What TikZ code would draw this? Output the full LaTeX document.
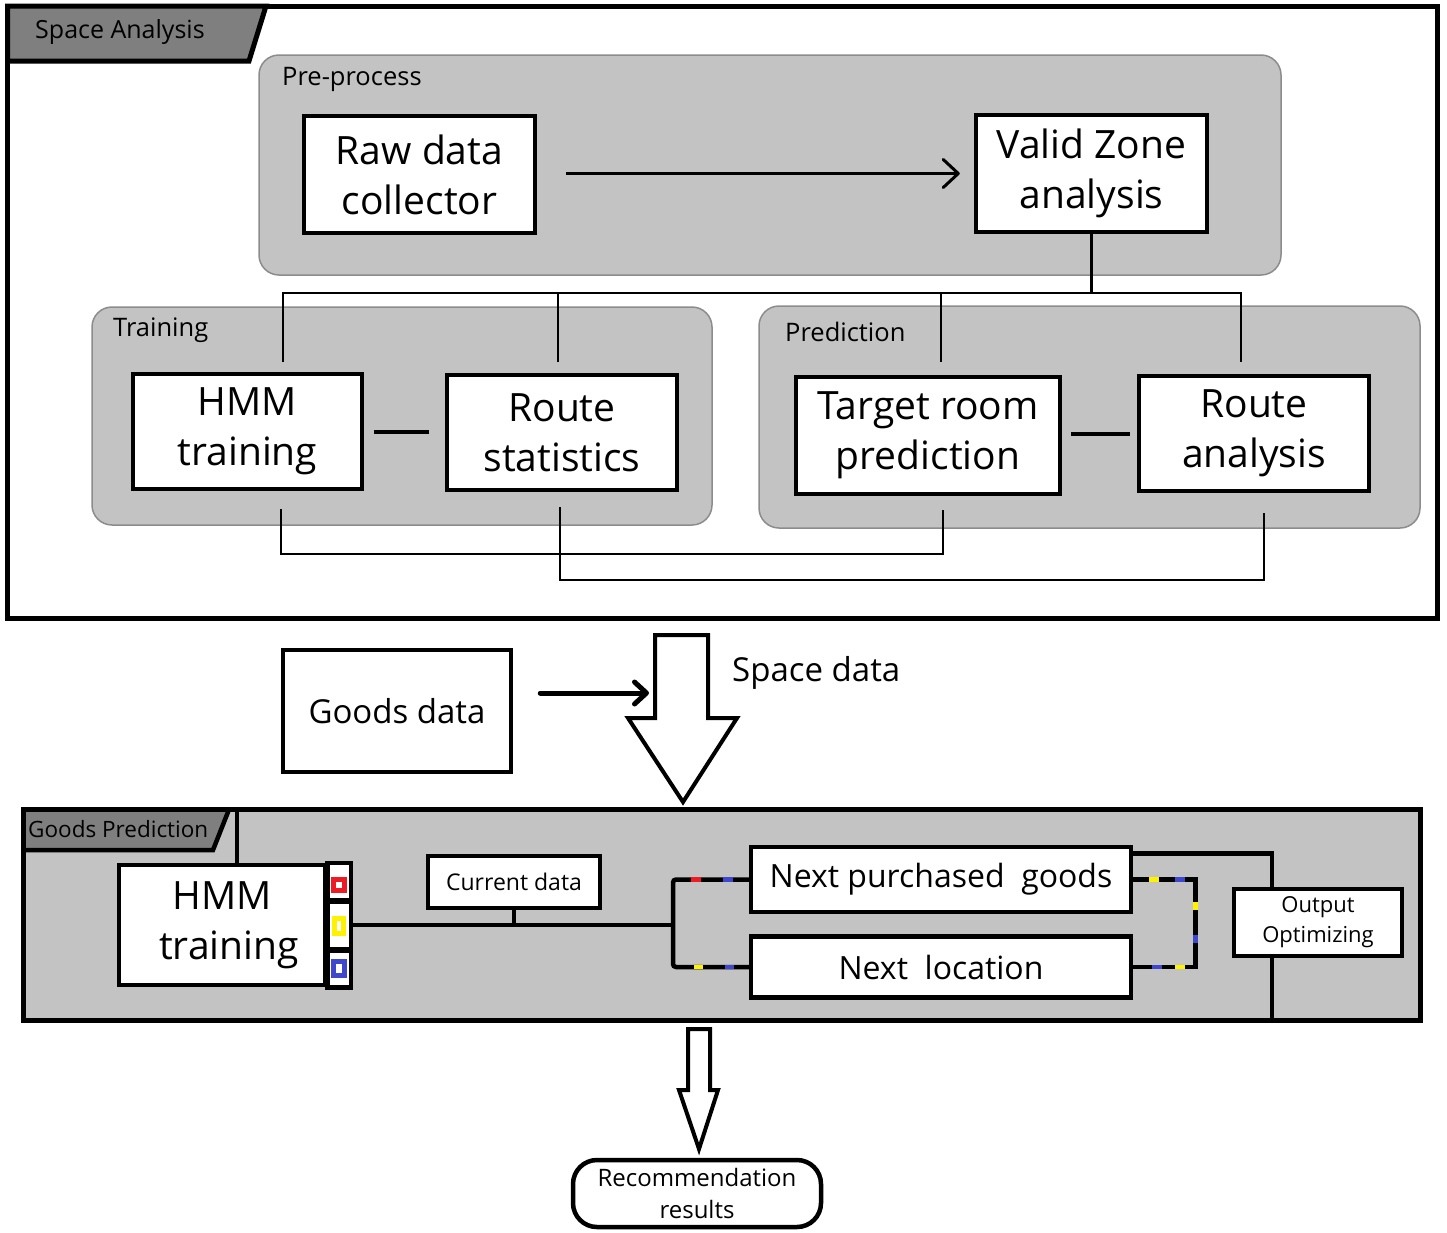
\documentclass[tikz,border=0pt]{standalone}
\usepackage{fontspec}
\setmainfont{Open Sans}
\usetikzlibrary{arrows.meta,calc}

\definecolor{grpfill}{HTML}{C3C3C3}
\definecolor{grpline}{HTML}{8C8C8C}
\definecolor{tabfill}{HTML}{7F7F7F}
\definecolor{pinred}{HTML}{ED1C24}
\definecolor{pinyel}{HTML}{FFF200}
\definecolor{pinblue}{HTML}{3F48CC}

\tikzset{
  bigbox/.style={draw, line width=4.5pt, fill=white, align=center, inner sep=0pt,
    font=\fontsize{39}{50}\selectfont},
  midbox/.style={draw, line width=4.5pt, fill=white, align=center, inner sep=0pt,
    font=\fontsize{32}{40}\selectfont},
  smallbox/.style={draw, line width=4pt, fill=white, align=center, inner sep=0pt,
    font=\fontsize{23}{30}\selectfont},
  grp/.style={draw=grpline, fill=grpfill, line width=1.5pt, rounded corners=20pt},
  glabel/.style={anchor=west, inner sep=0pt, font=\fontsize{25.5}{30}\selectfont},
  tablabel/.style={anchor=west, inner sep=0pt},
  link/.style={line width=2.8pt},
  heavy/.style={line width=4.5pt},
  chev/.style={-{Straight Barb[length=15pt,width=28pt,line width=3pt,round]}},
  chevbold/.style={line width=5pt, line cap=round,
    -{Straight Barb[length=12pt,width=22pt,line width=5pt,round]}},
  hollow/.style={draw, line width=4pt, fill=white, line join=miter},
  pin/.style={line width=5pt},
}

\begin{document}
\begin{tikzpicture}[x=1pt,y=-1pt]
\useasboundingbox (0,0) rectangle (1447,1232);

% ---------------- Space Analysis ----------------
\draw[line width=5pt] (7.5,6) rectangle (1437.5,618);
\draw[line width=5pt, fill=tabfill] (7.5,6) -- (266,6) -- (249,61) -- (7.5,61) -- cycle;
\node[tablabel, font=\fontsize{25}{30}\selectfont] (tabA) at (35,32) {Space Analysis};

% groups
\draw[grp] (259,55) rectangle (1281,275);
\node[glabel] (lpre) at (282,79) {Pre-process};
\draw[grp] (92,307) rectangle (712,525);
\node[glabel] (ltrain) at (113,330) {Training};
\draw[grp] (759,306) rectangle (1420,528);
\node[glabel] (lpred) at (785,332) {Prediction};

% boxes
\node[bigbox, minimum width=231pt, minimum height=117pt] (raw) at (419.5,174.5) {Raw data\\collector};
\node[bigbox, minimum width=231pt, minimum height=117pt] (valid) at (1091.5,173.5) {Valid Zone\\analysis};
\node[bigbox, minimum width=229pt, minimum height=115pt] (hmmT) at (247.5,431.5) {HMM\\training};
\node[bigbox, minimum width=230pt, minimum height=115pt] (rstat) at (562,432.5) {Route\\statistics};
\node[bigbox, minimum width=264pt, minimum height=117pt] (target) at (928,435.5) {Target room\\prediction};
\node[bigbox, minimum width=230pt, minimum height=115pt] (rana) at (1254,433.5) {Route\\analysis};

% raw -> valid
\draw[link, chev] ([xshift=29pt]raw.east |- valid.west) -- ([xshift=-14pt]valid.west);

% distribution bus
\coordinate (bus) at (0,293);
\coordinate (t1) at (283,362);
\coordinate (t2) at (558,362);
\coordinate (t3) at (941,362);
\coordinate (t4) at (1241,362);
\draw[link] (valid.south) -- (valid.south |- bus);
\draw[link] (t1) |- (t4 |- bus) -- (t4);
\draw[link] (t2) -- (t2 |- bus);
\draw[link] (t3) -- (t3 |- bus);

% side links
\coordinate (sideA) at (0,432);
\coordinate (sideB) at (0,434);
\draw[line width=3.5pt] ([xshift=10pt]hmmT.east |- sideA) -- ([xshift=-16pt]rstat.west |- sideA);
\draw[line width=3.5pt] ([xshift=9pt]target.east |- sideB) -- ([xshift=-7pt]rana.west |- sideB);

% lower cross links
\coordinate (b1) at (281,509);
\coordinate (b2) at (943,510);
\coordinate (b3) at (560,507);
\coordinate (b4) at (1264,513);
\draw[link] (b1) |- (b2 |- 0,554) -- (b2);
\draw[link] (b3) |- (b4 |- 0,580) -- (b4);

% ---------------- middle ----------------
\node[bigbox, font=\fontsize{33}{40}\selectfont, minimum width=228pt, minimum height=122pt] (goods) at (397,711) {Goods data};
\draw[hollow] (655,635) -- (708,635) -- (708,718) -- (737,718) -- (683,802)
  -- (628,718) -- (655,718) -- cycle;
\coordinate (bigin) at (649,693);
\draw[chevbold] ([xshift=27pt]goods.east |- bigin) -- (bigin);
\node[anchor=west, inner sep=0pt, font=\fontsize{33}{40}\selectfont] (spd) at (732,673) {Space data};

% ---------------- Goods Prediction ----------------
\draw[heavy, fill=grpfill] (23.5,809.5) rectangle (1420.5,1020.5);
\draw[heavy, fill=tabfill] (23.5,809.5) -- (229,809.5) -- (213,850) -- (23.5,850) -- cycle;
\node[tablabel, font=\fontsize{22.5}{28}\selectfont] (tabB) at (28,829) {Goods Prediction};

\node[bigbox, minimum width=206pt, minimum height=120pt] (hmmB) at (222,925) {HMM\\\hspace*{14pt}training};
\coordinate (tabpost) at (237,809.5);
\draw[heavy] (tabpost) -- (tabpost |- hmmB.north);
\draw[heavy, fill=white] (hmmB.north east) rectangle ($(hmmB.south east)+(23.5,0)$);
\coordinate (colR) at ($(hmmB.east)+(23.5,0)$);
\draw[line width=6pt] ($(hmmB.east)+(0,-24)$) -- ++(23.5,0);
\draw[line width=6pt] ($(hmmB.east)+(0,25)$) -- ++(23.5,0);
\draw[pin, pinred]  (333.5,879.5) rectangle (344.5,890.5);
\draw[pin, pinyel]  (334.5,918.5) rectangle (343.5,933.5);
\draw[pin, pinblue] (333.5,961.5) rectangle (344.5,975.5);

\node[smallbox, minimum width=172pt, minimum height=52pt] (cur) at (514,882) {Current data};
\node[midbox, minimum width=380pt, minimum height=65pt] (npg) at (941,879.5) {Next purchased~ goods};
\node[midbox, minimum width=380pt, minimum height=61pt] (nl) at (941,967) {Next~ location};
\node[smallbox, font=\fontsize{22}{30}\selectfont, minimum width=168pt, minimum height=67pt] (out) at (1318,922.5) {Output\\Optimizing};

% fork to the two predictions
\coordinate (fork) at (673,925);
\draw[heavy] (colR) -- (fork);
\draw[heavy] (cur.south) -- (cur.south |- fork);
\draw[heavy, rounded corners=3pt] (npg.west) -| (fork) |- (nl.west);
\draw[heavy, pinred]  (691,879.5) -- (701,879.5);
\draw[heavy, pinblue] (723,879.5) -- (733,879.5);
\draw[heavy, pinyel]  (694,967) -- (703,967);
\draw[heavy, pinblue] (725,967) -- (734,967);

% loop between the two predictions
\coordinate (loop) at (1195.5,925);
\draw[heavy] (npg.east) -| (loop) |- (nl.east);
\draw[heavy, pinyel]  (1149,879.5) -- (1159,879.5);
\draw[heavy, pinblue] (1175,879.5) -- (1185,879.5);
\draw[heavy, pinyel]  (1195.5,902) -- (1195.5,910);
\draw[heavy, pinblue] (1195.5,935) -- (1195.5,943);
\draw[heavy, pinblue] (1152,967) -- (1162,967);
\draw[heavy, pinyel]  (1175,967) -- (1185,967);

% output optimizing links
\coordinate (ox) at (1272,0);
\coordinate (gbot) at (0,1020.5);
\draw[heavy] ([yshift=26pt]npg.east) -| (ox |- out.north);
\draw[heavy] (ox |- out.south) -- (ox |- gbot);

% ---------------- result ----------------
\draw[hollow] (688,1029) -- (710,1029) -- (710,1090) -- (718,1090) -- (699,1149)
  -- (679,1090) -- (688,1090) -- cycle;
\node[draw, line width=4.5pt, fill=white, rounded corners=24pt, align=center, inner sep=0pt,
  font=\fontsize{24}{32}\selectfont, minimum width=248pt, minimum height=67pt] (rec) at (697,1193.5)
  {Recommendation\\results};
\end{tikzpicture}
\end{document}
